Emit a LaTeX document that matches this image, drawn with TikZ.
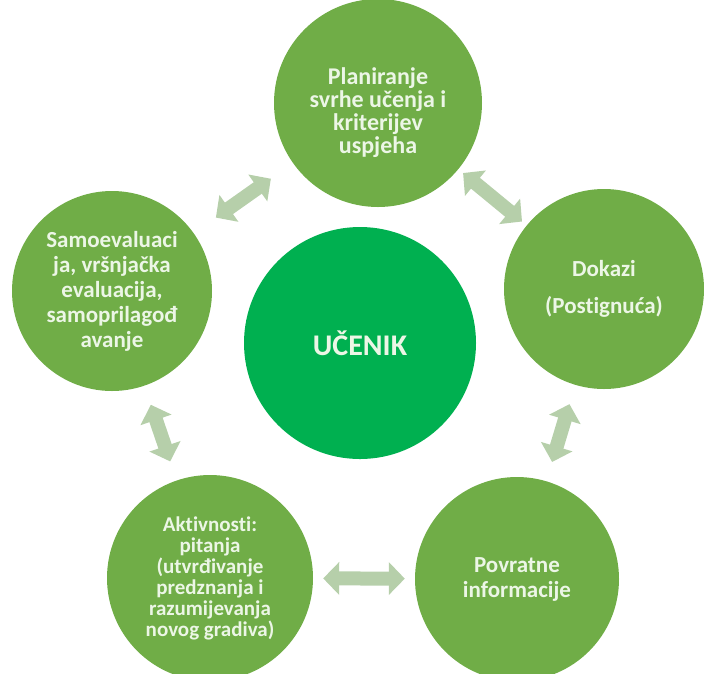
\documentclass[tikz,border=0pt]{standalone}
\usepackage{fontspec}
\setmainfont{Carlito}[Ligatures=NoCommon]
\usetikzlibrary{arrows.meta}
\definecolor{leaf}{RGB}{112,173,71}
\definecolor{core}{RGB}{0,176,80}
\definecolor{pale}{RGB}{182,207,170}
\definecolor{textlight}{RGB}{236,246,230}

\begin{document}
\begin{tikzpicture}[
    x=1pt, y=-1pt,
    stage/.style={circle, fill=leaf, text=textlight, inner sep=0pt, minimum size=204pt, align=center, font=\bfseries\fontsize{23}{25}\selectfont},
    learner/.style={circle, fill=core, text=textlight, inner sep=0pt, minimum size=232pt, font=\bfseries\fontsize{30}{32}\selectfont},
    link/.style={{Triangle[width=32pt,length=16pt]}-{Triangle[width=32pt,length=16pt]}, line width=14pt, draw=pale}
]
    \useasboundingbox (0,0) rectangle (704,673);

    % Central learner
    \node[learner] (learner) at (360,343) {UČENIK};

    % Stages of the cycle
    \node[stage, minimum size=208pt, font=\bfseries\fontsize{24}{23}\selectfont] (plan) at (378,103) {\rule{0pt}{36pt}Planiranje\\svrhe učenja i\\kriterijev\\uspjeha};
    \node[stage, minimum size=200pt, font=\bfseries\fontsize{23}{23}\selectfont] (proof) at (604,289) {Dokazi\\[14pt](Postignuća)};
    \node[stage] (feedback) at (517,579) {Povratne\\informacije};
    \node[stage, minimum size=206pt, font=\bfseries\fontsize{21}{21}\selectfont] (tasks) at (210,578) {Aktivnosti:\\pitanja\\(utvrđivanje\\predznanja i\\razumijevanja\\novog gradiva)};
    \node[stage, minimum size=200pt] (self) at (112,291) {Samoevaluaci\\ja, vršnjačka\\evaluacija,\\samoprilagođ\\avanje};

    % Two-way links
    \draw[link, shorten <=27pt, shorten >=27pt] (self) -- (plan);
    \draw[link, shorten <=6pt, shorten >=6pt] (plan) -- (proof);
    \draw[link, shorten <=20pt, shorten >=20pt] (proof) -- (feedback);
    \draw[link, shorten <=10pt, shorten >=10pt] (feedback) -- (tasks);
    \draw[link, shorten <=20pt, shorten >=20pt] (tasks) -- (self);
\end{tikzpicture}
\end{document}
